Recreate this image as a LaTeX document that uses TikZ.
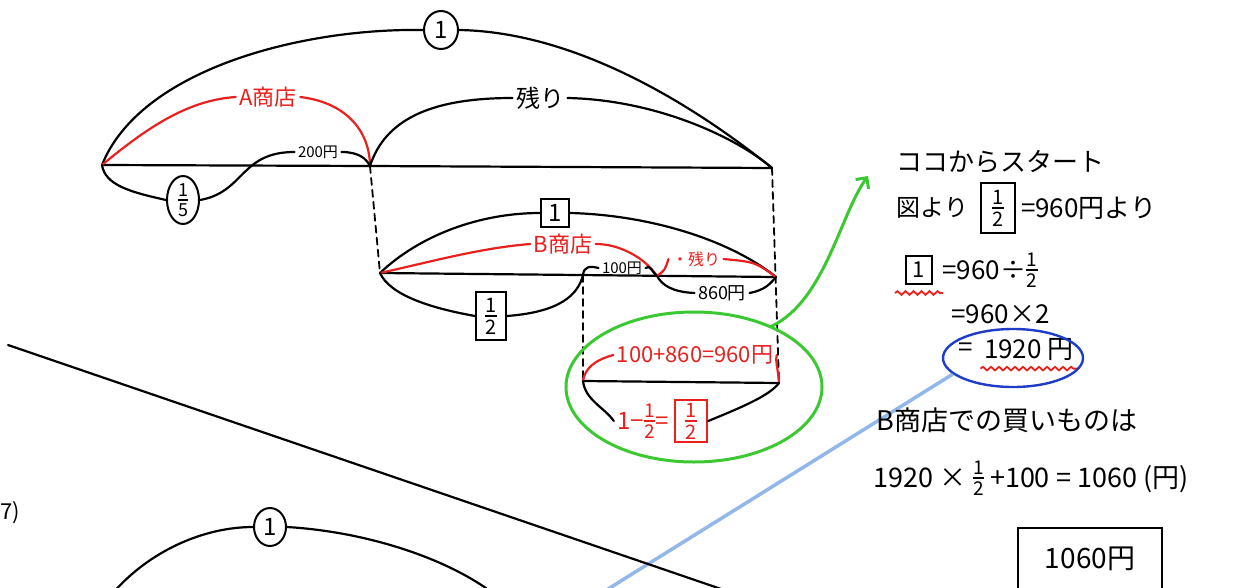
\documentclass[tikz,border=0pt]{standalone}
\usepackage{fontspec}
\setmainfont{Noto Sans CJK JP}
\usetikzlibrary{positioning,shapes.geometric,arrows.meta,decorations.pathmorphing}
\definecolor{penred}{RGB}{232,32,30}
\definecolor{pengreen}{RGB}{60,200,50}
\definecolor{penblue}{RGB}{30,60,200}
\definecolor{crayonblue}{RGB}{120,165,230}
\newcommand{\penfont}[1]{\fontsize{#1}{#1}\selectfont}
\newcommand{\stackfrac}[2]{\shortstack{#1\\\rule{0.6em}{1.5pt}\\#2}}
\newcommand{\handfrac}[2]{\raisebox{\dimexpr-0.5\height+0.36em\relax}{\penfont{19}\stackfrac{#1}{#2}}}
\tikzset{
  pen/.style={line width=2.2pt, line cap=round, line join=round},
  redpen/.style={pen, draw=penred},
  greenpen/.style={pen, draw=pengreen, line width=3pt},
  guide/.style={pen, line width=1.8pt, dash pattern=on 7pt off 5pt},
  wavy/.style={draw=penred, line width=1.8pt, decorate,
    decoration={snake, amplitude=1.8pt, segment length=8pt}},
  crayon/.style={draw=crayonblue, line width=3.5pt, opacity=0.8},
  circled/.style={draw, ellipse, line width=2pt, inner sep=0pt},
  boxed/.style={draw, rectangle, line width=2pt, inner sep=3pt},
  lbl/.style={font=\penfont{24}},
  small/.style={font=\penfont{15}},
  redlbl/.style={text=penred, font=\penfont{22}},
  note/.style={anchor=west, font=\penfont{26}},
}
\begin{document}
\begin{tikzpicture}[x=1pt,y=-1pt]
\useasboundingbox (0,0) rectangle (1233,588);
% first bar
\coordinate (a0) at (102,165);
\coordinate (a1) at (370,166);
\coordinate (a2) at (772,168);
\node[circled, lbl, minimum width=34, minimum height=38] (whole) at (441,30) {1};
\node[redlbl] (shopA) at (268,97) {A商店};
\node[lbl] (restA) at (540,98) {残り};
\node[circled, font=\penfont{18}, minimum width=32, minimum height=48] (fifth) at (183,200) {\stackfrac{1}{5}};
\node[small] (y200) at (318,152) {200円};
\draw[pen] (a0) -- (a1) -- (a2);
\draw[pen] (a0) .. controls (140,70) and (300,28) .. (whole.west);
\draw[pen] (whole.east) .. controls (580,32) and (700,110) .. (a2);
\draw[redpen] (a0) .. controls (150,125) and (190,100) .. (shopA.west);
\draw[redpen] (shopA.east) .. controls (350,103) and (370,135) .. (a1);
\draw[pen] (a1) .. controls (385,120) and (430,98) .. (restA.west);
\draw[pen] (restA.east) .. controls (660,100) and (740,140) .. (a2);
\draw[pen] (a0) .. controls (105,185) and (130,192) .. (fifth.west);
\draw[pen] (fifth.east) .. controls (245,192) and (240,152) .. (y200.west);
\draw[pen] (y200.east) .. controls (358,152) and (366,158) .. (a1);
% second bar
\coordinate (b0) at (380,273);
\coordinate (b1) at (583,275);
\coordinate (b2) at (657,276);
\coordinate (b3) at (776,277);
\coordinate (c0) at (583,381);
\coordinate (c1) at (779,383);
\draw[guide] (a1) -- (b0);
\draw[guide] (a2) -- (c1);
\node[boxed, lbl, minimum width=28, minimum height=28, inner sep=1pt] (wholeB) at (555,213) {1};
\node[redlbl] (shopB) at (563,244) {B商店};
\node[small] (y100) at (622,268) {100円};
\node[text=penred, font=\penfont{16}] (restB) at (696,259) {・残り};
\node[font=\penfont{18}] (y860) at (722,293) {860円};
\node[boxed, font=\penfont{20}, minimum width=30, minimum height=48] (halfB) at (491,316) {\stackfrac{1}{2}};
\draw[pen] (b0) -- (b3);
\draw[pen] (b0) .. controls (420,235) and (480,213) .. (wholeB.west);
\draw[pen] (wholeB.east) .. controls (650,215) and (730,240) .. (b3);
\draw[redpen] (b0) .. controls (430,262) and (480,248) .. (shopB.west);
\draw[redpen] (shopB.east) .. controls (620,244) and (645,258) .. (b2);
\draw[pen] (b1) .. controls (584,266) and (590,266) .. (y100.west);
\draw[pen] (y100.east) .. controls (650,264) and (652,272) .. (b2);
\draw[redpen] (b2) .. controls (665,270) .. (restB.west);
\draw[redpen] (restB.east) .. controls (755,262) .. (b3);
\draw[pen] (b2) .. controls (662,285) and (672,292) .. (y860.west);
\draw[pen] (y860.east) .. controls (765,290) and (770,284) .. (b3);
\draw[pen] (b0) .. controls (390,295) and (430,308) .. (halfB.west);
\draw[pen] (halfB.east) .. controls (560,312) and (578,295) .. (b1);
% third bar
\draw[guide] (b1) -- (c0);
\draw[pen] (c0) -- (c1);
\node[redlbl] (sum) at (695,355) {100+860=960円};
\node[text=penred, font=\penfont{24}] (rem) at (643,421) {1−\handfrac{1}{2}=};
\node[boxed, draw=penred, text=penred, font=\penfont{20}, minimum width=32, minimum height=42, right=2pt of rem] (remfrac) {\stackfrac{1}{2}};
\draw[redpen] (c0) .. controls (585,368) and (595,360) .. (sum.west);
\draw[redpen] (sum.east) .. controls (775,360) and (778,368) .. (c1);
\draw[pen] (c0) .. controls (585,400) and (605,408) .. (rem.west);
\draw[pen] (remfrac.east) .. controls (745,406) and (770,395) .. (c1);
\node[draw=pengreen, ellipse, line width=3pt, minimum width=256, minimum height=150] (focus) at (694,387) {};
% working on the right
\node[note] (start) at (893,162) {ココからスタート};
\coordinate (aim) at (868,176);
\draw[greenpen, -{Straight Barb[length=8pt,width=16pt]}] (focus.38) .. controls (825,300) and (840,215) .. (aim);
\node[note, font=\penfont{24}] (fig) at (893,208) {図より};
\node[boxed, font=\penfont{20}, minimum width=34, minimum height=50, right=8pt of fig] (figfrac) {\stackfrac{1}{2}};
\node[font=\penfont{26}, right=2pt of figfrac] (figeq) {=960円より};
\node[boxed, font=\penfont{22}, anchor=west, minimum width=26, minimum height=28, inner sep=1pt] (unit) at (905,270) {1};
\node[font=\penfont{26}, right=6pt of unit] (div) {=960÷\handfrac{1}{2}};
\draw[wavy] ([xshift=-10pt,yshift=-8pt]unit.south west) -- ([xshift=10pt,yshift=-8pt]unit.south east);
\node[note] (dbl) at (948,314) {=960×2};
\node[note] (eqans) at (955,350) {=};
\node[font=\penfont{26}, right=4pt of eqans] (ans) {1920 円};
\draw[wavy] ([yshift=-4pt]ans.south west) -- ([yshift=-4pt]ans.south east);
\node[draw=penblue, ellipse, line width=2.4pt, minimum width=140, minimum height=58] (ring) at (1013,358) {};
\coordinate (tail) at (600,594);
\draw[crayon] (ring.195) -- (tail);
\node[note, font=\penfont{27}] (buy) at (873,420) {B商店での買いものは};
\node[note, font=\penfont{27}] (calc) at (870,478) {1920 × \handfrac{1}{2} +100 = 1060 (円)};
\node[boxed, font=\penfont{28}, minimum width=144, minimum height=62] (final) at (1090,559) {1060円};
% next problem
\coordinate (cut0) at (8,345);
\coordinate (cut1) at (724,590);
\draw[pen] (cut0) -- (cut1);
\node[font=\penfont{22}, anchor=west, inner sep=0pt] (qno) at (0,513) {7)};
\node[circled, lbl, minimum width=32, minimum height=38] (wholeC) at (270,527) {1};
\coordinate (d0) at (112,594);
\coordinate (d1) at (494,594);
\draw[pen] (d0) .. controls (150,550) and (205,527) .. (wholeC.west);
\draw[pen] (wholeC.east) .. controls (370,532) and (450,560) .. (d1);
\end{tikzpicture}
\end{document}
